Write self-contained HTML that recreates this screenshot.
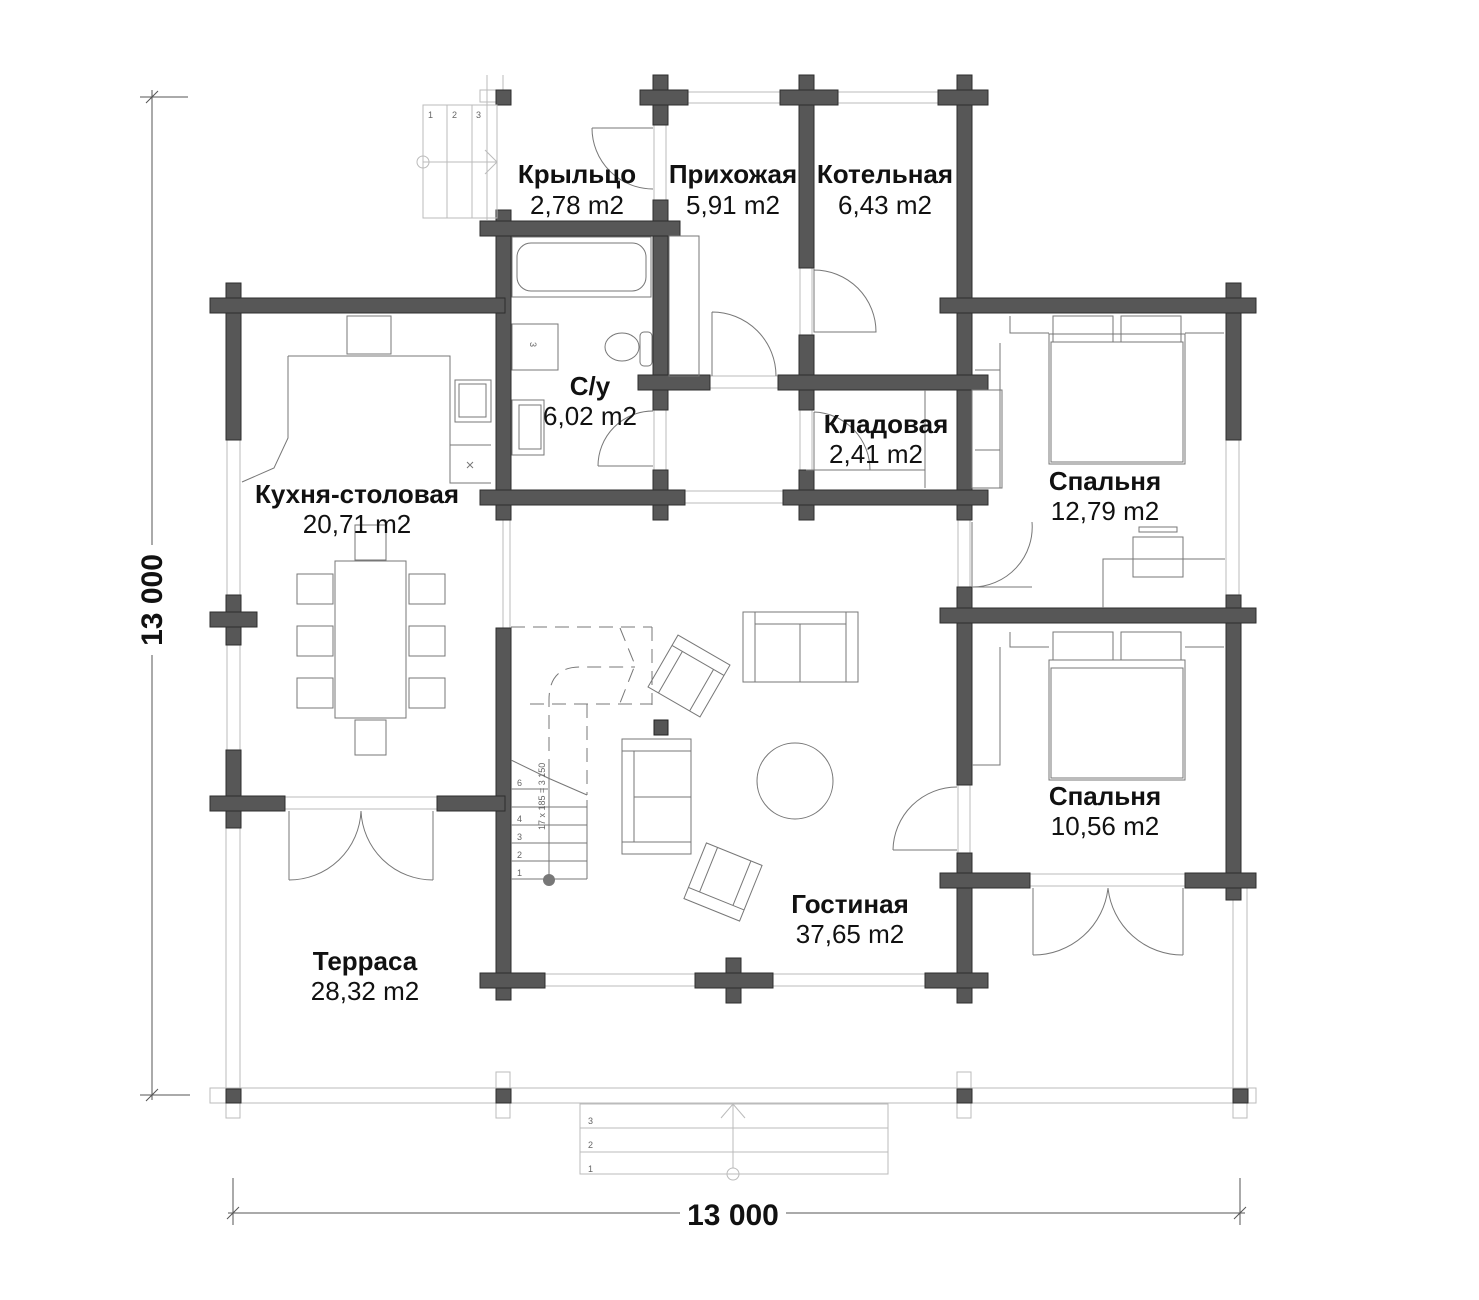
<!DOCTYPE html>
<html><head><meta charset="utf-8"><style>
html,body{margin:0;padding:0;background:#fff}
svg{display:block}
.w{fill:#575757;stroke:#2e2e2e;stroke-width:1}
.f{fill:none;stroke:#777;stroke-width:1}
.l{fill:none;stroke:#bbb;stroke-width:1}
.t{font-family:"Liberation Sans",sans-serif;font-size:26px;fill:#111;text-anchor:middle}
.b{font-weight:bold}
.n{font-family:"Liberation Sans",sans-serif;font-size:9px;fill:#666}
</style></head><body>
<svg width="1479" height="1300" viewBox="0 0 1479 1300" xmlns="http://www.w3.org/2000/svg">
<g class="l">
<rect x="688" y="92" width="92" height="11"/><rect x="838" y="92" width="100" height="11"/>
<rect x="480" y="90" width="16" height="12"/><line x1="503" y1="75" x2="503" y2="90"/><line x1="487" y1="75" x2="487" y2="220"/>
<rect x="227" y="440" width="13" height="155"/><rect x="227" y="645" width="13" height="105"/>
<rect x="1226" y="440" width="13" height="155"/>
<rect x="285" y="797" width="152" height="12"/>
<rect x="1030" y="874" width="155" height="12"/>
<rect x="545" y="974" width="150" height="12"/><rect x="773" y="974" width="152" height="12"/>
<rect x="685" y="491" width="98" height="12"/>
<rect x="654" y="125" width="12" height="75"/>
<rect x="710" y="376" width="68" height="12"/>
<rect x="800" y="268" width="12" height="67"/>
<rect x="654" y="410" width="12" height="60"/><rect x="800" y="410" width="12" height="60"/>
<rect x="958" y="520" width="12" height="67"/><rect x="958" y="785" width="12" height="68"/>
<line x1="503" y1="520" x2="503" y2="628"/><line x1="510" y1="520" x2="510" y2="628"/>
<rect x="210" y="1088" width="1046" height="15"/>
<rect x="226" y="811" width="14" height="307"/><rect x="1233" y="888" width="14" height="230"/>
<rect x="496" y="1072" width="14" height="46"/><rect x="957" y="1072" width="14" height="46"/>
</g>
<g class="w"><rect x="226" y="1089" width="15" height="14"/><rect x="496" y="1089" width="15" height="14"/><rect x="957" y="1089" width="15" height="14"/><rect x="1233" y="1089" width="15" height="14"/></g>
<g class="w">
<rect x="226" y="283" width="15" height="157"/><rect x="226" y="595" width="15" height="50"/><rect x="226" y="750" width="15" height="78"/>
<rect x="496" y="210" width="15" height="310"/><rect x="496" y="628" width="15" height="372"/>
<rect x="653" y="75" width="15" height="50"/><rect x="653" y="200" width="15" height="210"/><rect x="653" y="470" width="15" height="50"/>
<rect x="799" y="75" width="15" height="193"/><rect x="799" y="335" width="15" height="75"/><rect x="799" y="470" width="15" height="50"/>
<rect x="957" y="75" width="15" height="445"/><rect x="957" y="587" width="15" height="198"/><rect x="957" y="853" width="15" height="150"/>
<rect x="1226" y="283" width="15" height="157"/><rect x="1226" y="595" width="15" height="305"/>
<rect x="726" y="958" width="15" height="45"/>
<rect x="496" y="90" width="15" height="15"/>
<rect x="640" y="90" width="48" height="15"/><rect x="780" y="90" width="58" height="15"/><rect x="938" y="90" width="50" height="15"/>
<rect x="480" y="221" width="200" height="15"/>
<rect x="210" y="298" width="295" height="15"/><rect x="940" y="298" width="316" height="15"/>
<rect x="638" y="375" width="72" height="15"/><rect x="778" y="375" width="210" height="15"/>
<rect x="480" y="490" width="205" height="15"/><rect x="783" y="490" width="205" height="15"/>
<rect x="210" y="612" width="47" height="15"/><rect x="940" y="608" width="316" height="15"/>
<rect x="210" y="796" width="75" height="15"/><rect x="437" y="796" width="68" height="15"/>
<rect x="940" y="873" width="90" height="15"/><rect x="1185" y="873" width="71" height="15"/>
<rect x="480" y="973" width="65" height="15"/><rect x="695" y="973" width="78" height="15"/><rect x="925" y="973" width="63" height="15"/>
</g>
<g class="f">
<path d="M592 128 L653 128 M592 128 A61 61 0 0 0 653 189"/>
<path d="M814 268 L814 332 L876 332 A62 62 0 0 0 814 270"/>
<path d="M712 312 L712 376 M712 312 A64 64 0 0 1 776 376"/>
<path d="M598 466 L653 466 M598 466 A55 55 0 0 1 653 411"/>
<path d="M814 412 L814 470 M814 412 A58 58 0 0 1 870 470"/>
<path d="M972 587 L1032 587 M972 522 L972 587 M1032 522 A60 60 0 0 1 972 587"/>
<path d="M893 850 L957 850 M893 850 A64 64 0 0 1 957 787"/>
<path d="M289 811 L289 880 M289 880 A72 72 0 0 0 361 811 M433 811 L433 880 M433 880 A72 72 0 0 1 361 811"/>
<path d="M1033 888 L1033 955 M1033 955 A75 75 0 0 0 1108 888 M1183 888 L1183 955 M1183 955 A75 75 0 0 1 1108 888"/>
</g>
<g class="f">
<rect x="512" y="237" width="139" height="60"/><rect x="517" y="243" width="129" height="48" rx="14"/>
<rect x="512" y="324" width="46" height="46"/>
<ellipse cx="622" cy="347" rx="17" ry="14"/><rect x="640" y="332" width="12" height="34" rx="4"/>
<rect x="512" y="400" width="32" height="55"/><rect x="519" y="405" width="22" height="44"/>
<rect x="669" y="236" width="30" height="140"/>
</g>
<text class="n" x="528" y="350" transform="rotate(90 533 347)">3</text>
<g class="f"><path d="M972 390 L1000 390 L1000 488 M806 470 L925 470 L925 488 M925 390 L925 470"/>
<rect x="972" y="390" width="30" height="98"/></g>
<g class="f">
<rect x="347" y="316" width="44" height="38"/>
<path d="M288 356 L450 356 L450 483 L491 483 M450 445 L491 445 M288 356 L288 438 L274 468 L242 482"/>
<rect x="455" y="380" width="36" height="42"/><rect x="459" y="384" width="27" height="33"/>
<path d="M467 462 l6 6 m0 -6 l-6 6"/>
<rect x="335" y="561" width="71" height="157"/>
<rect x="355" y="525" width="31" height="35"/><rect x="355" y="720" width="31" height="35"/>
<rect x="297" y="574" width="36" height="30"/><rect x="297" y="626" width="36" height="30"/><rect x="297" y="678" width="36" height="30"/>
<rect x="409" y="574" width="36" height="30"/><rect x="409" y="626" width="36" height="30"/><rect x="409" y="678" width="36" height="30"/>
</g>
<g class="f">
<rect x="1049" y="334" width="136" height="130"/><rect x="1051" y="342" width="132" height="120"/>
<rect x="1053" y="316" width="60" height="26"/><rect x="1121" y="316" width="60" height="26"/>
<path d="M1010 316 L1010 333 L1049 333 M1185 333 L1224 333 M1000 343 L1000 460 M975 370 L1000 370 M975 450 L1000 450"/>
<rect x="1133" y="537" width="50" height="40"/><rect x="1139" y="527" width="38" height="5"/>
<path d="M1103 608 L1103 559 L1225 559"/>
<rect x="1049" y="660" width="136" height="120"/><rect x="1051" y="668" width="132" height="110"/>
<rect x="1053" y="632" width="60" height="28"/><rect x="1121" y="632" width="60" height="28"/>
<path d="M1010 632 L1010 647 L1049 647 M1185 647 L1224 647 M1000 647 L1000 765 L972 765"/>
</g>
<g class="f">
<rect x="743" y="612" width="115" height="70"/><path d="M755 612 L755 682 M846 612 L846 682 M755 624 L846 624 M800 624 L800 682"/>
<rect x="622" y="739" width="69" height="115"/><path d="M622 751 L691 751 M622 842 L691 842 M634 751 L634 842 M634 797 L691 797"/>
<g transform="rotate(30 689 676)"><rect x="659" y="646" width="60" height="60"/><path d="M659 658 L719 658 M671 658 L671 706 M707 658 L707 706"/></g>
<g transform="rotate(22 723 882)"><rect x="693" y="852" width="60" height="60"/><path d="M693 900 L753 900 M705 852 L705 900 M741 852 L741 900"/></g>
<circle cx="795" cy="781" r="38"/>
</g>
<rect x="654" y="720" width="14" height="15" fill="#555" stroke="#222"/>
<g class="f">
<path d="M511 789 L548 789 M511 807 L587 807 M511 825 L587 825 M511 843 L587 843 M511 861 L587 861 M511 879 L587 879 M587 800 L587 879 M511 760 L548 778 L587 795"/>
<path d="M549 770 L549 880"/>
<path d="M511 627 L652 627 M652 627 L652 705 M530 704 L652 704 M587 704 L587 795 M620 628 L635 665 L620 703 M549 795 L549 700 Q549 667 580 667 L635 667" stroke-dasharray="14 8"/>
</g>
<circle cx="549" cy="880" r="6" fill="#777"/>
<g class="n"><text x="517" y="786">6</text><text x="517" y="822">4</text><text x="517" y="840">3</text><text x="517" y="858">2</text><text x="517" y="876">1</text>
<text transform="translate(545 830) rotate(-90)">17 x 185 = 3 150</text></g>
<g class="l"><rect x="423" y="105" width="74" height="113"/><path d="M447 105 L447 218 M472 105 L472 218 M423 162 L497 162 M485 150 L497 162 L485 174"/><circle cx="423" cy="162" r="6"/></g>
<g class="n"><text x="428" y="118">1</text><text x="452" y="118">2</text><text x="476" y="118">3</text></g>
<g class="l"><rect x="580" y="1104" width="308" height="70"/><path d="M580 1128 L888 1128 M580 1152 L888 1152 M733 1104 L733 1168 M721 1118 L733 1104 L745 1118"/><circle cx="733" cy="1174" r="6"/></g>
<g class="n"><text x="588" y="1124">3</text><text x="588" y="1148">2</text><text x="588" y="1172">1</text></g>
<g stroke="#555" stroke-width="1" fill="none">
<path d="M152 90 L152 1100 M140 97 L188 97 M140 1095 L190 1095 M146 103 L158 91 M146 1101 L158 1089"/>
<path d="M233 1178 L233 1225 M1240 1178 L1240 1225 M228 1213 L1245 1213 M227 1219 L239 1207 M1234 1219 L1246 1207"/>
</g>
<rect x="680" y="1198" width="106" height="30" fill="#fff"/>
<text class="t b" x="733" y="1225" style="font-size:30px">13 000</text>
<rect x="136" y="545" width="30" height="110" fill="#fff"/>
<text class="t b" transform="translate(162 600) rotate(-90)" style="font-size:30px">13 000</text>
<g class="t">
<text class="b" x="577" y="183">Крыльцо</text><text x="577" y="214">2,78 m2</text>
<text class="b" x="733" y="183">Прихожая</text><text x="733" y="214">5,91 m2</text>
<text class="b" x="885" y="183">Котельная</text><text x="885" y="214">6,43 m2</text>
<text class="b" x="590" y="395">С/у</text><text x="590" y="425">6,02 m2</text>
<text class="b" x="886" y="433">Кладовая</text><text x="876" y="463">2,41 m2</text>
<text class="b" x="357" y="503">Кухня-столовая</text><text x="357" y="533">20,71 m2</text>
<text class="b" x="1105" y="490">Спальня</text><text x="1105" y="520">12,79 m2</text>
<text class="b" x="1105" y="805">Спальня</text><text x="1105" y="835">10,56 m2</text>
<text class="b" x="850" y="913">Гостиная</text><text x="850" y="943">37,65 m2</text>
<text class="b" x="365" y="970">Терраса</text><text x="365" y="1000">28,32 m2</text>
</g>
</svg>
</body></html>
